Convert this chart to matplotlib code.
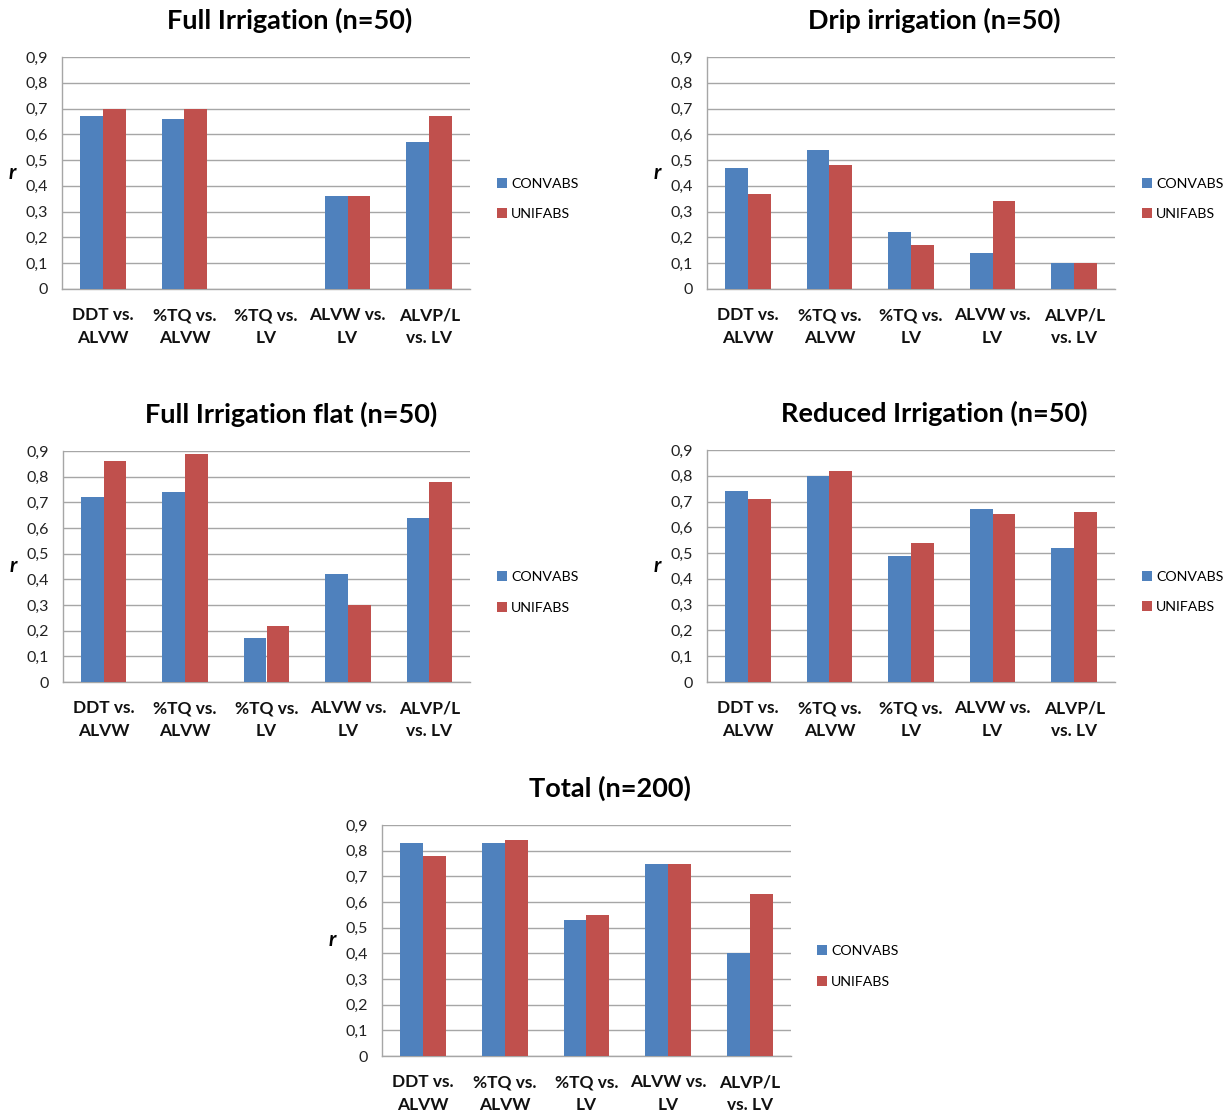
import matplotlib
matplotlib.use("Agg")
import matplotlib.pyplot as plt
import numpy as np

plt.rcParams['font.family'] = ['Lato', 'DejaVu Sans']

categories = ["DDT vs.\nALVW", "%TQ vs.\nALVW", "%TQ vs.\nLV", "ALVW vs.\nLV", "ALVP/L\nvs. LV"]
series_names = ["CONVABS", "UNIFABS"]
yticks = [0, 0.1, 0.2, 0.3, 0.4, 0.5, 0.6, 0.7, 0.8, 0.9]
ytick_labels = ["0", "0,1", "0,2", "0,3", "0,4", "0,5", "0,6", "0,7", "0,8", "0,9"]

full_title = "Full Irrigation (n=50)"
full_conv = [0.67, 0.66, 0.0, 0.36, 0.57]
full_unif = [0.70, 0.70, 0.0, 0.36, 0.67]

drip_title = "Drip irrigation (n=50)"
drip_conv = [0.47, 0.54, 0.22, 0.14, 0.10]
drip_unif = [0.37, 0.48, 0.17, 0.34, 0.10]

flat_title = "Full Irrigation flat (n=50)"
flat_conv = [0.72, 0.74, 0.17, 0.42, 0.64]
flat_unif = [0.86, 0.89, 0.22, 0.30, 0.78]

reduced_title = "Reduced Irrigation (n=50)"
reduced_conv = [0.74, 0.80, 0.49, 0.67, 0.52]
reduced_unif = [0.71, 0.82, 0.54, 0.65, 0.66]

total_title = "Total (n=200)"
total_conv = [0.83, 0.83, 0.53, 0.75, 0.40]
total_unif = [0.78, 0.84, 0.55, 0.75, 0.63]

BLUE = "#4F81BD"
RED = "#C0504D"
GRID = "#A6A6A6"

W, H = 1231, 1116
fig = plt.figure(figsize=(W / 100, H / 100), dpi=100)


def panel(left, top, right, bottom, title, title_x, conv, unif, legend_x):
    ax = fig.add_axes([left / W, 1 - bottom / H, (right - left) / W, (bottom - top) / H])
    x = np.arange(len(categories))
    bw = 0.28
    ax.bar(x - bw / 2, conv, bw, color=BLUE, label=series_names[0], zorder=3)
    ax.bar(x + bw / 2, unif, bw, color=RED, label=series_names[1], zorder=3)
    ax.set_xlim(-0.5, len(categories) - 0.5)
    ax.set_ylim(0, 0.9)
    ax.set_yticks(yticks)
    ax.set_yticklabels(ytick_labels, fontsize=11.5, color="#222222")
    ax.set_xticks(x)
    ax.set_xticklabels(categories, fontsize=12.5, fontweight="bold",
                       linespacing=1.55, color="#111111")
    ax.tick_params(axis="both", length=0)
    ax.tick_params(axis="y", pad=10)
    ax.tick_params(axis="x", pad=13)
    ax.grid(axis="y", color=GRID, linewidth=1, zorder=0)
    for s in ["top", "right"]:
        ax.spines[s].set_visible(False)
    for s in ["left", "bottom"]:
        ax.spines[s].set_color(GRID)
        ax.spines[s].set_linewidth(1)
    ax.set_ylabel("r", fontsize=15, fontweight="bold", style="italic",
                  rotation=0, va="center")
    ax.yaxis.set_label_coords(-50 / (right - left), 0.5)
    fig.text(title_x / W, 1 - (top - 37) / H, title, fontsize=19.5,
             fontweight="bold", ha="center", va="center")
    handles, labels = ax.get_legend_handles_labels()
    leg_center_y = (top + bottom) / 2 + 26
    fig.legend(handles, labels, loc="center left",
               bbox_to_anchor=(legend_x / W, 1 - leg_center_y / H),
               frameon=False, fontsize=10.2, handlelength=0.7, handleheight=0.7,
               handletextpad=0.3, labelspacing=1.3, borderpad=0,
               borderaxespad=0)
    return ax


panel(62, 57, 470, 289, full_title, 290, full_conv, full_unif, 497)
panel(707, 57, 1115, 289, drip_title, 934, drip_conv, drip_unif, 1142)
panel(63, 451, 470, 682, flat_title, 291, flat_conv, flat_unif, 497)
panel(707, 450, 1115, 682, reduced_title, 934, reduced_conv, reduced_unif, 1142)
panel(382, 825, 791, 1056, total_title, 610, total_conv, total_unif, 817)

fig.savefig("out.png", dpi=100, facecolor="white")
